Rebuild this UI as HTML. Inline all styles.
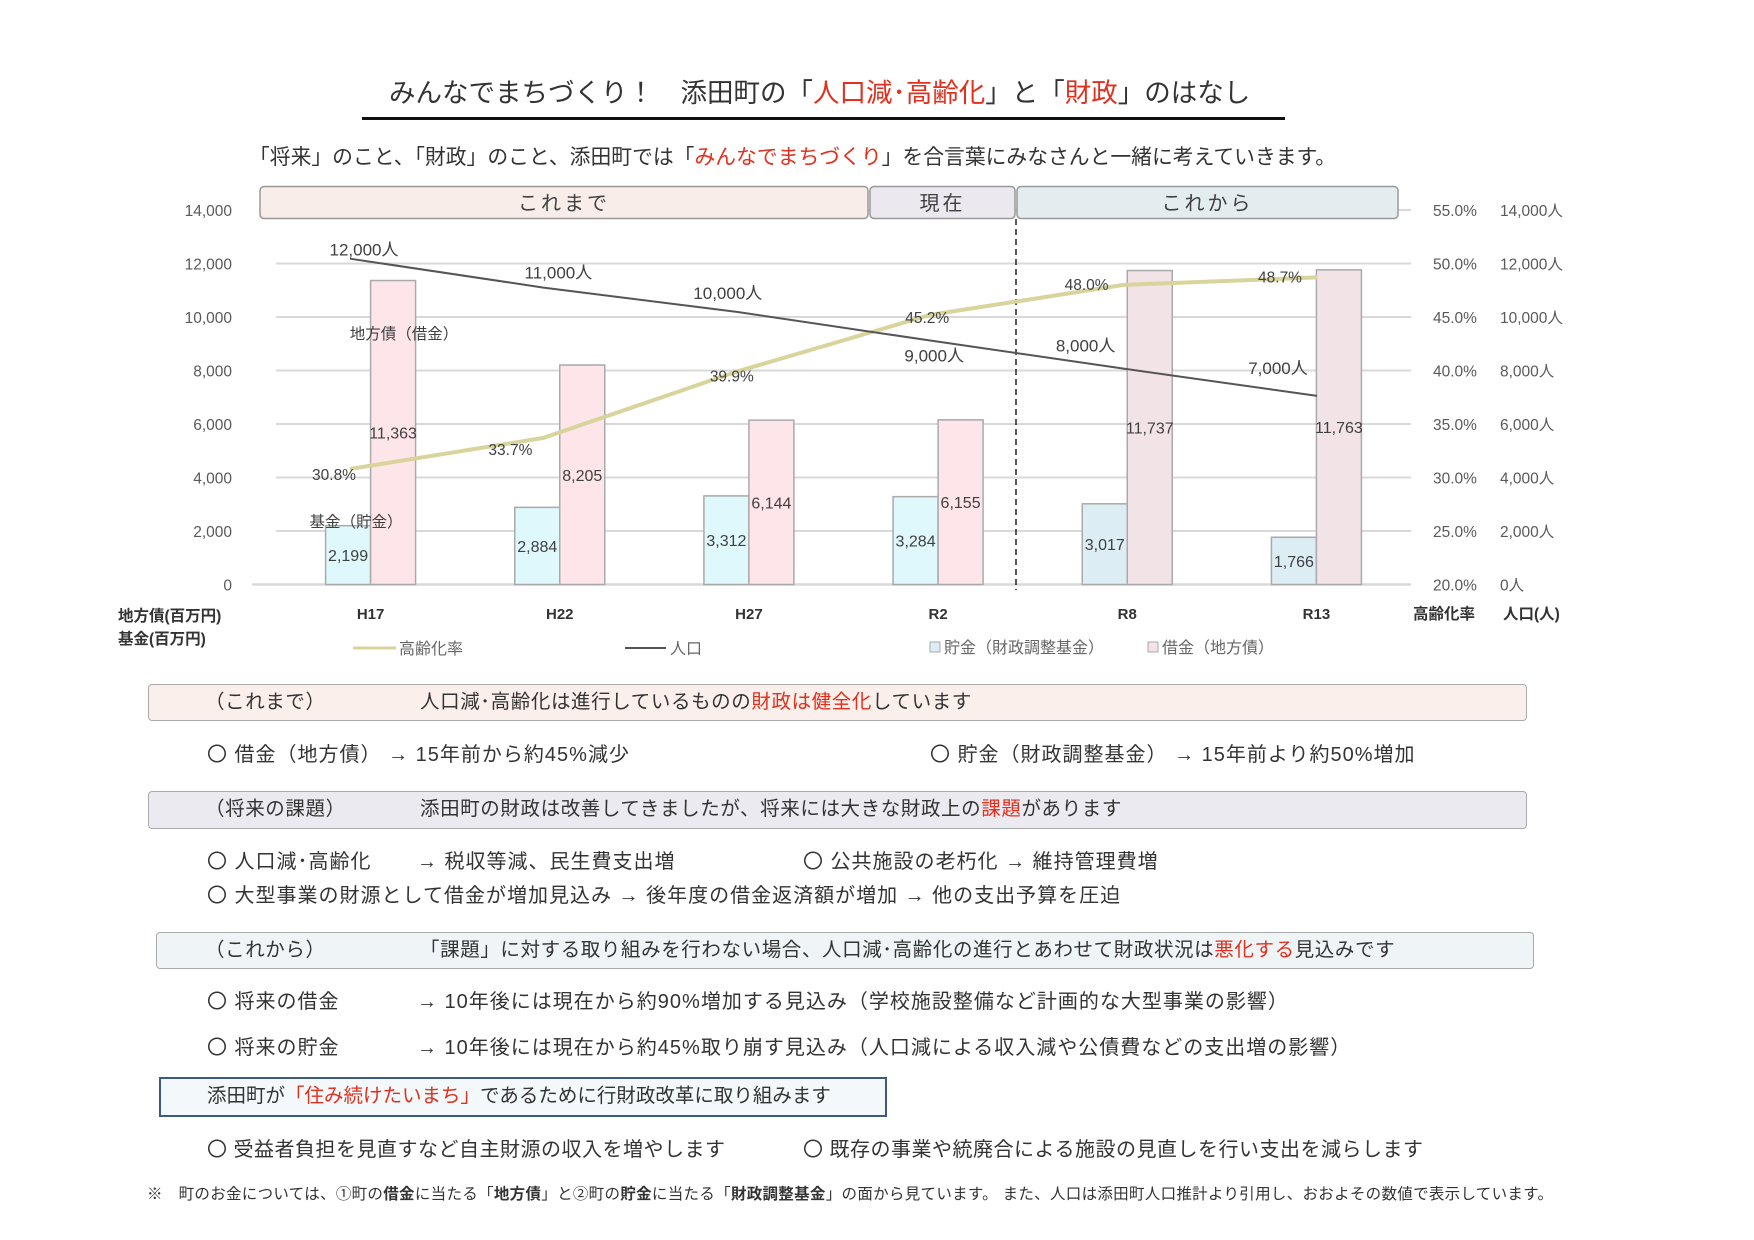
<!DOCTYPE html>
<html><head><meta charset="utf-8">
<style>
body{margin:0;background:#fff;}
#page{position:relative;width:1754px;height:1240px;overflow:hidden;background:#fff;font-family:"Liberation Sans","Noto Sans CJK JP",sans-serif;color:#333;}
.t{position:absolute;white-space:nowrap;font-size:19.5px;line-height:1;}
.bx{letter-spacing:0.6px;}
.it{letter-spacing:1px;font-size:20px;}
.r{color:#e0301e;}
.box{position:absolute;border:1.5px solid #aaa;border-radius:4px;box-sizing:border-box;}
svg text{font-family:"Liberation Sans","Noto Sans CJK JP",sans-serif;}
</style></head><body>
<div id="page">
<div class="t" style="left:389px;top:80px;font-size:26.5px;">みんなでまちづくり！　添田町の「<span class="r">人口減･高齢化</span>」と「<span class="r">財政</span>」のはなし</div>
<div style="position:absolute;left:362px;top:117px;width:923px;height:3px;background:#111;"></div>
<div class="t" style="left:249px;top:148px;font-size:20.8px;">「将来」のこと、「財政」のこと、添田町では「<span class="r">みんなでまちづくり</span>」を合言葉にみなさんと一緒に考えていきます。</div>

<svg id="chart" width="1754" height="700" style="position:absolute;left:0;top:0;"></svg>

<div class="box" style="left:148px;top:684px;width:1379px;height:37px;background:#fbefeb;"></div>
<div class="t bx" style="left:205px;top:693px;">（これまで）</div>
<div class="t bx" style="left:420px;top:693px;">人口減･高齢化は進行しているものの<span class="r">財政は健全化</span>しています</div>
<div class="t it" style="left:207px;top:745px;">〇 借金（地方債）  →  15年前から約45%減少</div>
<div class="t it" style="left:930px;top:745px;">〇 貯金（財政調整基金）  →  15年前より約50%増加</div>

<div class="box" style="left:148px;top:791px;width:1379px;height:38px;background:#eceaf1;"></div>
<div class="t bx" style="left:205px;top:800px;">（将来の課題）</div>
<div class="t bx" style="left:420px;top:800px;">添田町の財政は改善してきましたが、将来には大きな財政上の<span class="r">課題</span>があります</div>
<div class="t it" style="left:207px;top:852px;">〇 人口減･高齢化</div>
<div class="t it" style="left:417px;top:852px;">→  税収等減、民生費支出増</div>
<div class="t it" style="left:803px;top:852px;">〇 公共施設の老朽化  →  維持管理費増</div>
<div class="t it" style="left:207px;top:886px;">〇 大型事業の財源として借金が増加見込み  →  後年度の借金返済額が増加  →  他の支出予算を圧迫</div>

<div class="box" style="left:156px;top:932px;width:1378px;height:37px;background:#eff4f7;"></div>
<div class="t bx" style="left:205px;top:941px;">（これから）</div>
<div class="t bx" style="left:420px;top:941px;">「課題」に対する取り組みを行わない場合、人口減･高齢化の進行とあわせて財政状況は<span class="r">悪化する</span>見込みです</div>
<div class="t it" style="left:207px;top:992px;">〇 将来の借金</div>
<div class="t it" style="left:417px;top:992px;">→  10年後には現在から約90%増加する見込み（学校施設整備など計画的な大型事業の影響）</div>
<div class="t it" style="left:207px;top:1038px;">〇 将来の貯金</div>
<div class="t it" style="left:417px;top:1038px;">→  10年後には現在から約45%取り崩す見込み（人口減による収入減や公債費などの支出増の影響）</div>

<div style="position:absolute;left:159px;top:1077px;width:728px;height:40px;border:2px solid #3d5a86;box-sizing:border-box;background:#f3f8fb;"></div>
<div class="t" style="left:207px;top:1087px;">添田町が<span class="r">「住み続けたいまち」</span>であるために行財政改革に取り組みます</div>
<div class="t it" style="left:207px;top:1140px;letter-spacing:0.5px;">〇 受益者負担を見直すなど自主財源の収入を増やします</div>
<div class="t it" style="left:803px;top:1140px;letter-spacing:0.5px;">〇 既存の事業や統廃合による施設の見直しを行い支出を減らします</div>
<div class="t" style="left:147px;top:1187px;font-size:15.5px;letter-spacing:0.3px;">※　町のお金については、①町の<b>借金</b>に当たる「<b>地方債</b>」と②町の<b>貯金</b>に当たる「<b>財政調整基金</b>」の面から見ています。 また、人口は添田町人口推計より引用し、おおよその数値で表示しています。</div>
</div>

<script>
const categories = ["H17","H22","H27","R2","R8","R13"];
const fundValues = [2199,2884,3312,3284,3017,1766];
const debtValues = [11363,8205,6144,6155,11737,11763];
const agingValues = [30.8,33.7,39.9,45.2,48.0,48.7];
const agingLabels = ["30.8%","33.7%","39.9%","45.2%","48.0%","48.7%"];
const popValues = [12180,11100,10190,9120,8070,7050];
const popLabels = ["12,000人","11,000人","10,000人","9,000人","8,000人","7,000人"];
const leftTicks = [0,2000,4000,6000,8000,10000,12000,14000];
const leftTickLabels = ["0","2,000","4,000","6,000","8,000","10,000","12,000","14,000"];
const pctTickLabels = ["20.0%","25.0%","30.0%","35.0%","40.0%","45.0%","50.0%","55.0%"];
const popTickLabels = ["0人","2,000人","4,000人","6,000人","8,000人","10,000人","12,000人","14,000人"];

const svg = document.getElementById('chart');
const NS = 'http://www.w3.org/2000/svg';
const X0 = 276, X1 = 1411, Y0 = 584.5, Y1 = 210;
const band = (X1 - X0) / categories.length;
const xc = i => X0 + band * (i + 0.5);
const xl = i => 350 + i * (1317 - 350) / (categories.length - 1);
const y = v => Y0 - (v / 14000) * (Y0 - Y1);
const yp = v => Y0 - ((v - 20) / 35) * (Y0 - Y1);
function el(tag, attrs, parent) {
  const e = document.createElementNS(NS, tag);
  for (const k in attrs) e.setAttribute(k, attrs[k]);
  (parent || svg).appendChild(e);
  return e;
}
function txt(x, yy, s, size, anchor, fill) {
  const t = el('text', {x: x, y: yy, 'font-size': size, 'text-anchor': anchor || 'middle', fill: fill || '#404040'});
  t.textContent = s;
  return t;
}

leftTicks.forEach((v, i) => {
  if (i > 0) {
    const g = el('line', {x1: X0, x2: X1, y1: y(v), y2: y(v), stroke: '#d9d9d9', 'stroke-width': 2});
    
    
  }
  const a = txt(232, y(v) + 6, leftTickLabels[i], 15.5, 'end', '#595959');
  
  
  const b = txt(1433, y(v) + 6, pctTickLabels[i], 15.5, 'start', '#595959');
  
  
  const c = txt(1500, y(v) + 6, popTickLabels[i], 15.5, 'start', '#595959');
  
  
});
const ax = el('line', {x1: 252, x2: 1411, y1: Y0, y2: Y0, stroke: '#d9d9d9', 'stroke-width': 2.5});



const headers = [[259, 869, 'これまで', '#f8ede9'], [869, 1016, '現在', '#ebe8ef'], [1016, 1399, 'これから', '#e3edf0']];
headers.forEach(h => {
  const r = el('rect', {x: h[0] + 1, y: 186.5, width: h[1] - h[0] - 2, height: 32, rx: 4, fill: h[3], stroke: '#999', 'stroke-width': 1.5});
  
  
  const t = txt((h[0] + h[1]) / 2, 210, h[2], 20, 'middle', '#404040');
  t.setAttribute('letter-spacing', '3');
  
  
});

categories.forEach((c, i) => {
  const future = i >= 4;
  const f = el('rect', {x: xc(i) - 45, y: y(fundValues[i]), width: 45, height: Y0 - y(fundValues[i]), fill: future ? '#dcedf3' : '#dff8fc', stroke: '#aaa', 'stroke-width': 1.5});
  
  
  const d = el('rect', {x: xc(i), y: y(debtValues[i]), width: 45, height: Y0 - y(debtValues[i]), fill: future ? '#f2e4e6' : '#fde5ea', stroke: '#aaa', 'stroke-width': 1.5});
  
  
  const fl = txt(xc(i) - 22.5, (y(fundValues[i]) + Y0) / 2 + 6, fundValues[i].toLocaleString('en-US'), 16);
  
  
  const dl = txt(xc(i) + 22.5, (y(debtValues[i]) + Y0) / 2 + 6, debtValues[i].toLocaleString('en-US'), 16);
  
  
  const cl = txt(xc(i), 619, c, 15, 'middle', '#333');
  cl.setAttribute('font-weight', 'bold');
  
  
});

const dash = el('line', {x1: 1016, x2: 1016, y1: 219, y2: 590, stroke: '#222', 'stroke-width': 1.5, 'stroke-dasharray': '6,4'});



const ag = el('polyline', {points: agingValues.map((v, i) => xl(i) + ',' + yp(v)).join(' '), fill: 'none', stroke: '#d8d49c', 'stroke-width': 4});


const pp = el('polyline', {points: popValues.map((v, i) => xl(i) + ',' + y(v)).join(' '), fill: 'none', stroke: '#555', 'stroke-width': 2});



const agOff = [[-16, 11], [-33, 17], [-5, 10], [-3, 8], [-37, 5], [-37, 5]];
agingValues.forEach((v, i) => {
  const t = txt(xl(i) + agOff[i][0], yp(v) + agOff[i][1], agingLabels[i], 15.5);
  
  
});
const popOff = [[14, -3], [15, -9], [-9, -13], [4, 21], [-38, -17], [-39, -22]];
popValues.forEach((v, i) => {
  const t = txt(xl(i) + popOff[i][0], y(v) + popOff[i][1], popLabels[i], 17);
  
  
});

const ann1 = txt(404, 339, '地方債（借金）', 15.5);


const ann2 = txt(356, 527, '基金（貯金）', 15.5);



const at1 = txt(118, 621, '地方債(百万円)', 15.5, 'start', '#333');
at1.setAttribute('font-weight', 'bold');


const at2 = txt(118, 644, '基金(百万円)', 15.5, 'start', '#333');
at2.setAttribute('font-weight', 'bold');


const at3 = txt(1413, 619, '高齢化率', 15.5, 'start', '#333');
at3.setAttribute('font-weight', 'bold');


const at4 = txt(1503, 619, '人口(人)', 15.5, 'start', '#333');
at4.setAttribute('font-weight', 'bold');



const lg1 = el('line', {x1: 353, x2: 396, y1: 648, y2: 648, stroke: '#d8d49c', 'stroke-width': 3});


const lt1 = txt(399, 654, '高齢化率', 16, 'start', '#666');


const lg2 = el('line', {x1: 625, x2: 666, y1: 648, y2: 648, stroke: '#555', 'stroke-width': 2});


const lt2 = txt(670, 654, '人口', 16, 'start', '#666');


const lg3 = el('rect', {x: 930, y: 642, width: 10, height: 10, fill: '#dcedf3', stroke: '#aaa'});


const lt3 = txt(944, 653, '貯金（財政調整基金）', 16, 'start', '#666');


const lg4 = el('rect', {x: 1148, y: 642, width: 10, height: 10, fill: '#f2e4e6', stroke: '#aaa'});


const lt4 = txt(1162, 653, '借金（地方債）', 16, 'start', '#666');


</script>
</body></html>
